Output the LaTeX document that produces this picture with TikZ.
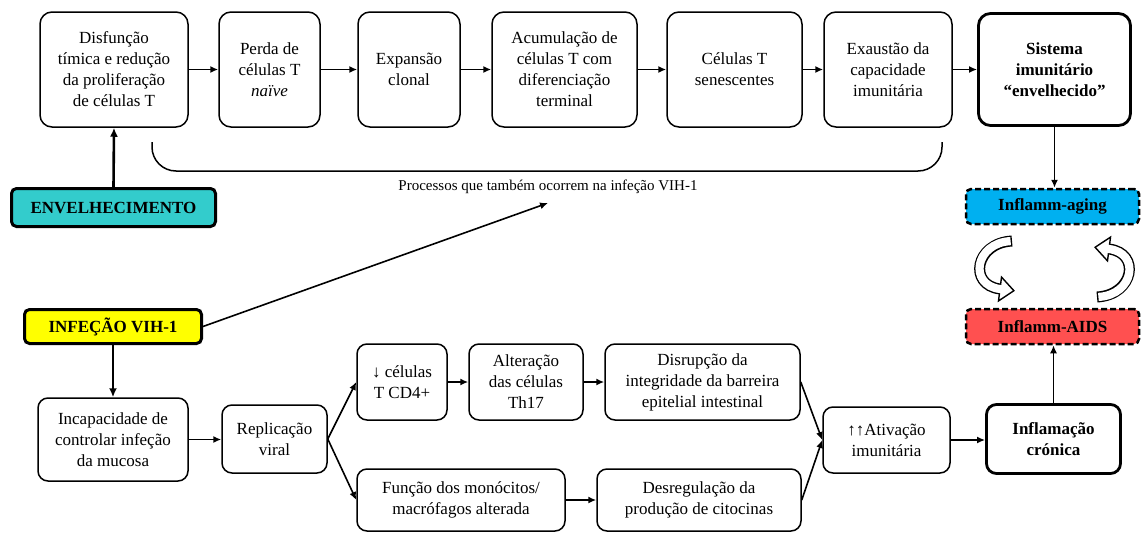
\documentclass[tikz,border=0pt]{standalone}
\usepackage{fontspec}
\setmainfont{Liberation Serif}
\usetikzlibrary{arrows.meta}
\definecolor{tealbox}{HTML}{33CCCC}
\definecolor{agingblue}{HTML}{00B0F0}
\definecolor{aidsred}{HTML}{FF5050}
\definecolor{hivyellow}{HTML}{FFFF00}

\tikzset{
  turnarrow/.pic={
    \draw[line width=11pt, black] (18,-26) .. controls (-19,-24) and (-26,18) .. (6,22);
    \filldraw[fill=white, draw=black, line width=1.4pt, line join=miter]
      (19.9,23.7) -- (4.5,33.9) -- (7.5,10.1) -- cycle;
    \draw[line width=8.2pt, white, shorten <=1.4pt]
      (18,-26) .. controls (-19,-24) and (-26,18) .. (6,22) -- ++(2,0.25);
  }
}

\begin{document}
\begin{tikzpicture}[x=1pt,y=-1pt,
  txt/.style={font=\fontsize{17}{21}\selectfont, align=center},
  proc/.style={txt, draw, line width=1.5pt, rounded corners=12pt, fill=white, inner sep=0pt},
  keybox/.style={proc, line width=2.8pt, font=\fontsize{17}{21}\selectfont\bfseries},
  tagbox/.style={txt, draw, line width=3pt, rounded corners=5pt, inner sep=0pt,
                 font=\fontsize{17}{21}\selectfont\bfseries},
  dashbox/.style={tagbox, dash pattern=on 6pt off 3pt, line width=2.5pt},
  flow/.style={line width=1.6pt, -{Latex[length=8pt,width=7pt]}},
  heavyflow/.style={line width=2.6pt, -{Latex[length=9pt,width=8pt]}},
]
\useasboundingbox (0,0) rectangle (1141,533);

% ageing pathway (top row)
\node[proc, minimum width=148pt, minimum height=115pt] (b1) at (114,69.5)
  {Disfunção\\tímica e redução\\da proliferação\\de células T};
\node[proc, minimum width=101pt, minimum height=115pt] (b2) at (269.5,69.5)
  {Perda de\\células T\\\textit{naïve}};
\node[proc, minimum width=102pt, minimum height=115pt] (b3) at (409,69.5)
  {Expansão\\clonal};
\node[proc, minimum width=145pt, minimum height=115pt] (b4) at (564.5,69.5)
  {Acumulação de\\células T com\\diferenciação\\terminal};
\node[proc, minimum width=135pt, minimum height=115pt] (b5) at (734.5,69.5)
  {Células T\\senescentes};
\node[proc, minimum width=128pt, minimum height=115pt] (b6) at (888,69.5)
  {Exaustão da\\capacidade\\imunitária};
\node[keybox, minimum width=152pt, minimum height=112pt] (b7) at (1054.5,69.5)
  {Sistema\\imunitário\\“envelhecido”};

\foreach \a/\b in {b1/b2,b2/b3,b3/b4,b4/b5,b5/b6,b6/b7}
  \draw[flow] (\a.east) -- (\b.west);

% processes shared with HIV-1 infection
\draw[line width=1.5pt, rounded corners=24pt] (152,142) -- (152,171) -- (942,171) -- (942,142);
\node[font=\fontsize{15}{18}\selectfont] (shared) at (548,187)
  {Processos que também ocorrem na infeção VIH-1};

\node[tagbox, fill=tealbox, minimum width=204pt, minimum height=38pt] (env) at (113.5,207.5)
  {ENVELHECIMENTO};
\draw[heavyflow] (env.north) -- (b1.south);

% inflammation loop
\node[dashbox, fill=agingblue, minimum width=173pt, minimum height=35pt] (aging) at (1052.5,206.5)
  {Inflamm-aging};
\node[dashbox, fill=aidsred, minimum width=173pt, minimum height=35pt] (aids) at (1052.5,326.5)
  {Inflamm-AIDS};
\draw[flow] (b7.south) -- (b7.south |- aging.north);
\pic at (994,267) {turnarrow};
\pic[rotate=180] at (1115,271) {turnarrow};

% HIV-1 pathway (bottom rows)
\node[tagbox, fill=hivyellow, minimum width=177pt, minimum height=34pt] (hiv) at (113,326.5)
  {INFEÇÃO VIH-1};
\coordinate (sharedtip) at (548,203);
\draw[flow] (hiv.east) -- (sharedtip);

\node[proc, rounded corners=10pt, minimum width=150pt, minimum height=83pt] (incap) at (113,439.5)
  {Incapacidade de\\controlar infeção\\da mucosa};
\node[proc, rounded corners=10pt, minimum width=105pt, minimum height=68pt] (repl) at (274.5,439)
  {Replicação\\viral};
\node[proc, rounded corners=10pt, minimum width=90pt, minimum height=76pt] (cd4) at (402,382)
  {↓ células\\T CD4+};
\node[proc, rounded corners=10pt, minimum width=114pt, minimum height=76pt] (th17) at (526,382)
  {Alteração\\das células\\Th17};
\node[proc, rounded corners=10pt, minimum width=195pt, minimum height=76pt] (disr) at (702.5,382)
  {Disrupção da\\integridade da barreira\\epitelial intestinal};
\node[proc, rounded corners=10pt, minimum width=208pt, minimum height=62pt] (func) at (461,500)
  {Função dos monócitos/\\macrófagos alterada};
\node[proc, rounded corners=10pt, minimum width=204pt, minimum height=62pt] (desr) at (699,500)
  {Desregulação da\\produção de citocinas};
\node[proc, rounded corners=10pt, minimum width=127pt, minimum height=66pt] (ativ) at (886.5,440)
  {↑↑Ativação\\imunitária};
\node[keybox, rounded corners=10pt, minimum width=134pt, minimum height=69pt] (cron) at (1053.5,439)
  {Inflamação\\crónica};

\draw[heavyflow] (hiv.south) -- (incap.north);
\draw[flow] (incap.east) -- (repl.west |- incap.east);
\draw[flow] (repl.east) -- (cd4.west);
\draw[flow] (repl.east) -- (func.west);
\draw[flow] (cd4.east) -- (th17.west);
\draw[flow] (th17.east) -- (disr.west);
\draw[flow] (func.east) -- (desr.west);
\draw[flow] (disr.east) -- (ativ.west);
\draw[flow] (desr.east) -- (ativ.west);
\draw[flow] (ativ.east) -- (cron.west |- ativ.east);
\draw[flow] (cron.north) -- (cron.north |- aids.south);
\end{tikzpicture}
\end{document}
